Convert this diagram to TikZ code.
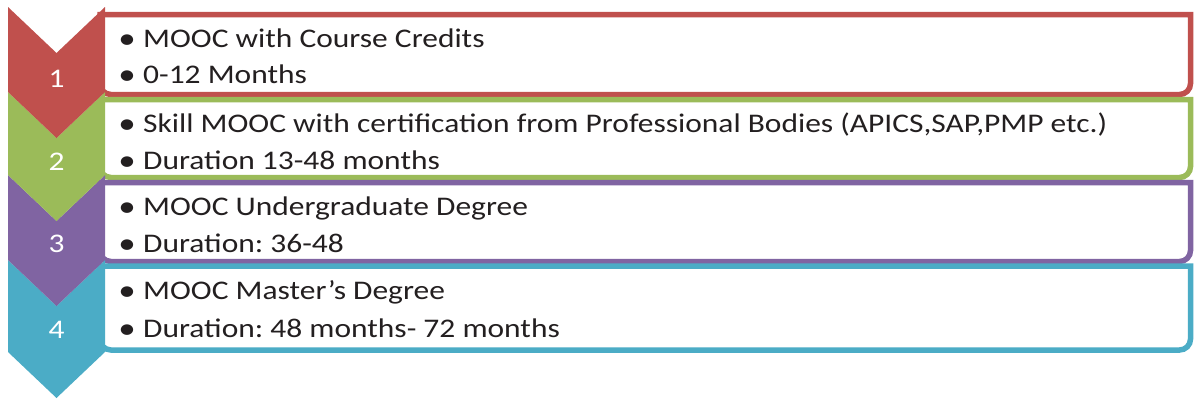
\documentclass[tikz,border=0pt]{standalone}
\usepackage{fontspec}
\setmainfont{Carlito}[FakeStretch=1.17]
\frenchspacing
\definecolor{cRed}{HTML}{C0504D}
\definecolor{cGreen}{HTML}{9BBB59}
\definecolor{cPurple}{HTML}{8064A2}
\definecolor{cTeal}{HTML}{4BACC6}
\definecolor{txtgray}{HTML}{231F20}
\tikzset{
  boxline/.style={draw=#1, line width=5.5bp, fill=white},
  numlabel/.style={text=white, font=\fontsize{27}{27}\selectfont, anchor=base, inner sep=0pt},
  bul/.style={text=txtgray, font=\fontsize{30}{30}\selectfont, anchor=base, inner sep=0pt},
  txt/.style={text=txtgray, font=\fontsize{27}{27}\selectfont, anchor=base west, inner sep=0pt}
}
\begin{document}
\begin{tikzpicture}[x=1bp,y=-1bp]
\useasboundingbox (0,0) rectangle (1194,401);
% boxes (left corners hidden behind the chevrons)
\coordinate (b1nw) at (100,14.5);  \coordinate (b1se) at (1190.5,94.5);
\coordinate (b2nw) at (100,99.5);  \coordinate (b2se) at (1190.5,177.5);
\coordinate (b3nw) at (100,182.5); \coordinate (b3se) at (1190.5,261.5);
\coordinate (b4nw) at (100,266);   \coordinate (b4se) at (1190.5,350);
\foreach \b/\c in {b1/cRed,b2/cGreen,b3/cPurple,b4/cTeal}{
  \draw[boxline=\c] (\b nw) -- (\b nw -| \b se) [rounded corners=11bp] -- (\b se) -- (\b se -| \b nw) [sharp corners] -- cycle;
}
% chevrons
\fill[cTeal] (8,260) -- (56.5,306) -- (105,260) -- (105,352) -- (56.5,398) -- (8,352) -- cycle;
\fill[cPurple] (8,175) -- (56.5,221) -- (105,175) -- (105,260) -- (56.5,306) -- (8,260) -- cycle;
\fill[cGreen] (8,92) -- (56.5,138) -- (105,92) -- (105,175) -- (56.5,221) -- (8,175) -- cycle;
\fill[cRed] (8,7) -- (56.5,53) -- (105,7) -- (105,92) -- (56.5,138) -- (8,92) -- cycle;
% numbers
\node[numlabel] (n1) at (56.5,87) {1};
\node[numlabel] (n2) at (56.5,170) {2};
\node[numlabel] (n3) at (56.5,252.5) {3};
\node[numlabel] (n4) at (56.5,338) {4};
% texts
\node[bul] (u1a) at (127,48) {•};
\node[txt] (t1a) at (143,47) {MOOC with Course Credits};
\node[bul] (u1b) at (127,84) {•};
\node[txt] (t1b) at (143,83) {0-12 Months};
\node[bul] (u2a) at (127,133.5) {•};
\node[txt] (t2a) at (143,132.5) {Skill MOOC with certification from Professional Bodies (APICS,SAP,PMP etc.)};
\node[bul] (u2b) at (127,170) {•};
\node[txt] (t2b) at (143,169) {Duration 13-48 months};
\node[bul] (u3a) at (127,216.5) {•};
\node[txt] (t3a) at (143,215.5) {MOOC Undergraduate Degree};
\node[bul] (u3b) at (127,253) {•};
\node[txt] (t3b) at (143,252) {Duration: 36-48};
\node[bul] (u4a) at (127,300) {•};
\node[txt] (t4a) at (143,299) {MOOC Master’s Degree};
\node[bul] (u4b) at (127,338) {•};
\node[txt] (t4b) at (143,337) {Duration: 48 months- 72 months};
\end{tikzpicture}
\end{document}
